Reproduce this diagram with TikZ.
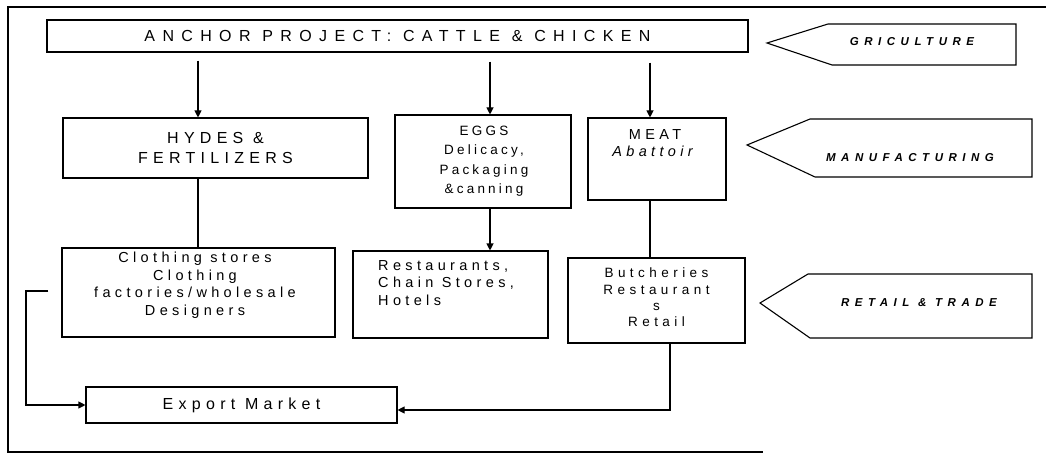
\documentclass[tikz,border=0pt]{standalone}
\usepackage{fontspec}
\setmainfont{Liberation Sans}
\newfontfamily\widefont[LetterSpace=33]{Liberation Sans}
\newfontfamily\midfont[LetterSpace=30]{Liberation Sans}
\newfontfamily\eggfont[LetterSpace=24]{Liberation Sans}
\newfontfamily\anchorfont[LetterSpace=46]{Liberation Sans}
\newfontfamily\tagfont[LetterSpace=48]{Liberation Sans}
\usetikzlibrary{arrows.meta}
\begin{document}
\begin{tikzpicture}[x=1pt,y=-1pt,
  box/.style={draw, line width=1.1pt, inner sep=0pt, align=center},
  txt/.style={inner sep=0pt, align=center},
  conn/.style={line width=1.1pt},
  arr/.style={conn, -{Triangle[width=7pt,length=7pt]}},
  anchorstyle/.style={font=\anchorfont\fontsize{16}{20}\selectfont},
  big/.style={font=\widefont\fontsize{16}{20}\selectfont},
  mid/.style={font=\midfont\fontsize{14.5}{17.5}\selectfont},
  egg/.style={font=\eggfont\fontsize{13.5}{19.5}\selectfont},
  small/.style={font=\widefont\fontsize{13.5}{16.3}\selectfont},
  tag/.style={inner sep=0pt, font=\tagfont\bfseries\itshape\fontsize{11.5}{13}\selectfont},
  pent/.style={line width=1.1pt, line join=miter}
]
\useasboundingbox (0,0) rectangle (1046,457);
% outer frame
\draw[line width=1.1pt] (1046,7) -- (8,7) -- (8,452) -- (763,452);

% top box
\node[box, anchorstyle, minimum width=701pt, minimum height=32pt] (top) at (397.5,36) {ANCHOR PROJECT: CATTLE \& CHICKEN};

% middle row
\node[box, big, minimum width=305pt, minimum height=60pt] (hydes) at (215.5,148) {HYDES \&\\FERTILIZERS};
\node[box, minimum width=176pt, minimum height=93pt] (eggs) at (483,161.5) {};
\node[txt, egg] (eggstxt) at (484,161) {EGGS\\Delicacy,\\Packaging\\\&canning};
\node[box, minimum width=138pt, minimum height=82pt] (meat) at (657,159) {};
\node[txt, mid] (meattxt) at (655,143) {MEAT\\\textit{Abattoir}};

% lower row
\node[box, minimum width=273pt, minimum height=89pt] (cloth) at (198.5,292.5) {};
\node[txt, mid] (clothtxt) at (195,285) {Clothing stores\\Clothing\\factories/wholesale\\Designers};
\node[box, minimum width=195pt, minimum height=87pt] (rest) at (450.5,294.5) {};
\node[txt, mid, align=left, anchor=north west] (resttxt) at (378,260) {Restaurants,\\Chain Stores,\\Hotels};
\node[box, minimum width=177pt, minimum height=85pt] (butch) at (656.5,300.5) {};
\node[txt, small] (butchtxt) at (656.5,297.5) {Butcheries\\Restaurant\\s\\Retail};

% export
\node[box, big, minimum width=311pt, minimum height=36pt] (export) at (241.5,405) {Export Market};

% side tags
\draw[pent] (767,43) -- (828,24) -- (1016,24) -- (1016,65) -- (832,65) -- cycle;
\node[tag] (agri) at (912,42) {GRICULTURE};
\draw[pent] (747,145) -- (810,119) -- (1032,119) -- (1032,177) -- (815,177) -- cycle;
\node[tag] (manu) at (910,158) {MANUFACTURING};
\draw[pent] (760,303) -- (808,274) -- (1032,274) -- (1032,338) -- (810,338) -- cycle;
\node[tag] (retail) at (919,303) {RETAIL \& TRADE};

% connectors
\draw[arr, shorten <=8pt] (top.south -| 198,0) -- (hydes.north -| 198,0);
\draw[arr, shorten <=9pt] (top.south -| 490,0) -- (eggs.north -| 490,0);
\draw[arr, shorten <=10pt] (top.south -| 650,0) -- (meat.north -| 650,0);
\draw[conn] (hydes.south -| 198,0) -- (cloth.north -| 198,0);
\draw[arr] (eggs.south -| 490,0) -- (rest.north -| 490,0);
\draw[conn] (meat.south -| 650,0) -- (butch.north -| 650,0);
\coordinate (cl) at (26,291);
\draw[arr, shorten <=13pt] (cloth.west |- cl) -- (cl) |- (export.west);
\coordinate (bt) at (670,410);
\draw[arr] (butch.south -| bt) -- (bt) -- (export.east |- bt);
\end{tikzpicture}
\end{document}
